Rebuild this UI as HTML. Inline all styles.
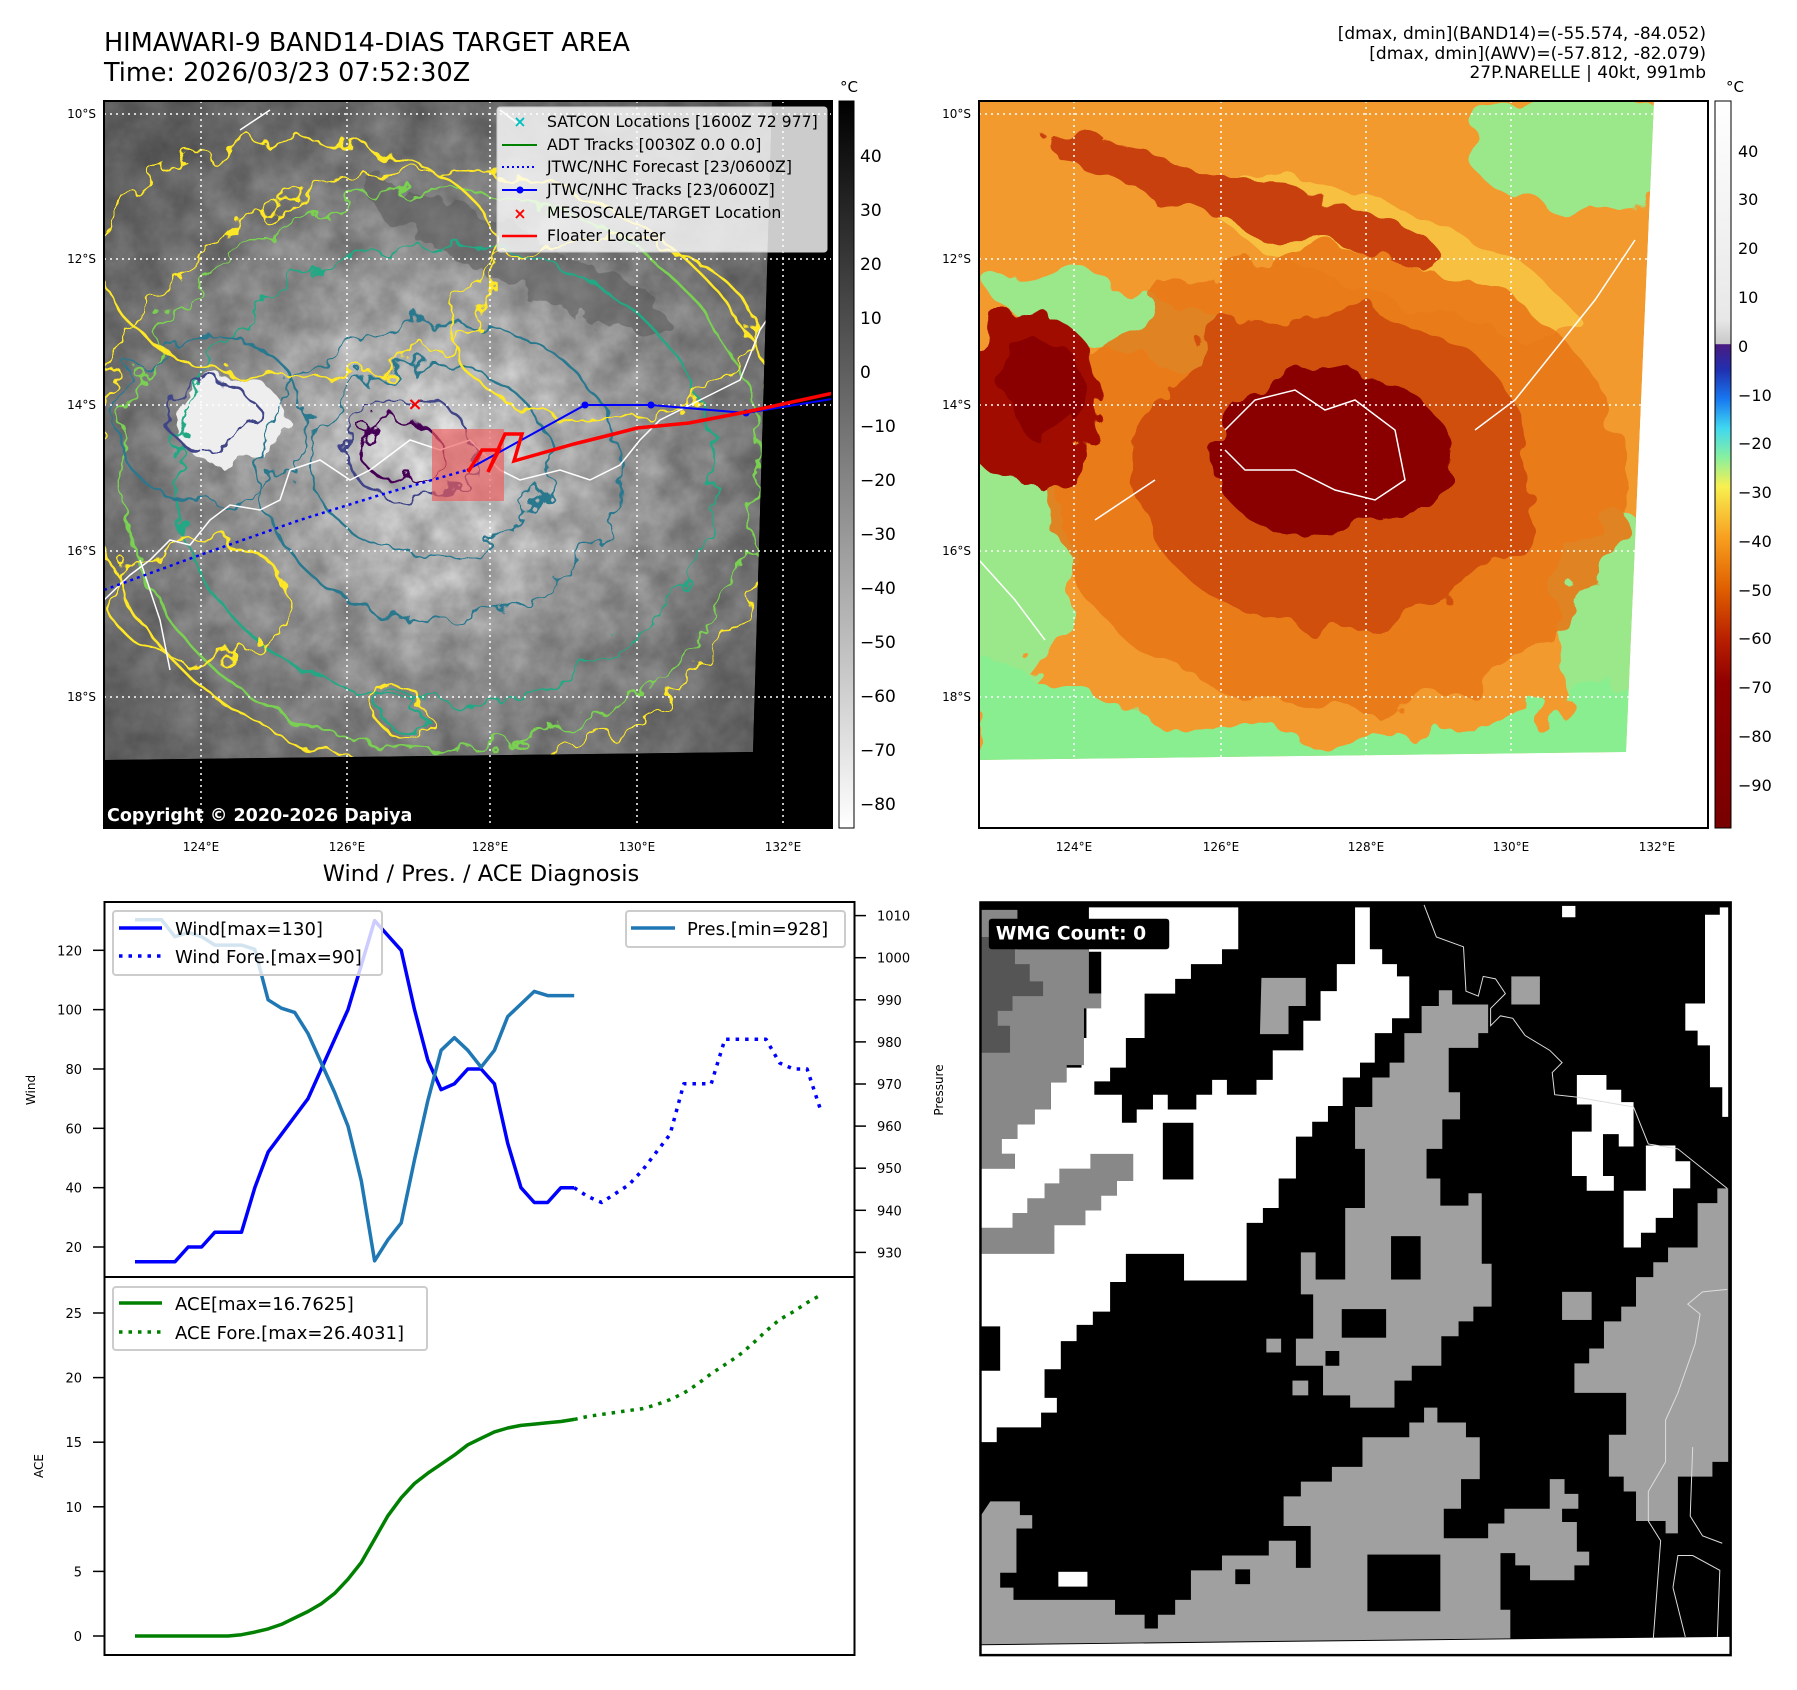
<!DOCTYPE html>
<html><head><meta charset="utf-8"><style>
html,body{margin:0;padding:0;background:#fff}
svg{display:block;font-family:"DejaVu Sans","Liberation Sans",sans-serif}
</style></head><body>
<svg id="fig" width="1797" height="1690" viewBox="0 0 1797 1690" xmlns="http://www.w3.org/2000/svg">
<defs>
  <filter id="wig" x="-10%" y="-10%" width="120%" height="120%"><feTurbulence type="fractalNoise" baseFrequency="0.035" numOctaves="3" seed="3"/><feDisplacementMap in="SourceGraphic" scale="38"/></filter>
  <filter id="wig2" x="-10%" y="-10%" width="120%" height="120%"><feTurbulence type="fractalNoise" baseFrequency="0.02" numOctaves="3" seed="7"/><feDisplacementMap in="SourceGraphic" scale="60"/></filter>
  <filter id="noise"><feTurbulence type="fractalNoise" baseFrequency="0.03" numOctaves="4" seed="5"/><feColorMatrix type="matrix" values="0 0 0 0 0  0 0 0 0 0  0 0 0 0 0  0 0 0 -1.2 1.1"/></filter>
  <radialGradient id="g1" cx="440" cy="460" r="420" gradientUnits="userSpaceOnUse">
    <stop offset="0" stop-color="#f4f4f4"/><stop offset="0.2" stop-color="#e0e0e0"/><stop offset="0.45" stop-color="#b4b4b4"/><stop offset="0.75" stop-color="#8c8c8c"/><stop offset="1" stop-color="#707070"/>
  </radialGradient>
  <linearGradient id="cb1" x1="0" y1="0" x2="0" y2="1"><stop offset="0" stop-color="#000"/><stop offset="1" stop-color="#fff"/></linearGradient>
  <linearGradient id="cb2" x1="0" y1="101" x2="0" y2="828" gradientUnits="userSpaceOnUse">
    <stop offset="0" stop-color="#ffffff"/><stop offset="0.3" stop-color="#e8e8e8"/><stop offset="0.334" stop-color="#c8c8c8"/>
    <stop offset="0.335" stop-color="#4a1a80"/><stop offset="0.37" stop-color="#2030b0"/><stop offset="0.41" stop-color="#1878f0"/><stop offset="0.45" stop-color="#40d8f0"/>
    <stop offset="0.49" stop-color="#88f0a0"/><stop offset="0.53" stop-color="#f8f050"/><stop offset="0.6" stop-color="#f8a020"/><stop offset="0.67" stop-color="#e06000"/>
    <stop offset="0.74" stop-color="#b82000"/><stop offset="0.8" stop-color="#900000"/><stop offset="1" stop-color="#780000"/>
  </linearGradient>
  <clipPath id="c1"><polygon points="104,101 772,101 753,752 104,760"/></clipPath>
  <clipPath id="c1ax"><rect x="104" y="101" width="728" height="727"/></clipPath>
  <clipPath id="c2"><polygon points="979,101 1654,101 1626,752 979,760"/></clipPath>
</defs>

<text x="104" y="51" font-size="25.5">HIMAWARI-9 BAND14-DIAS TARGET AREA</text>
<text x="104" y="81" font-size="25.5">Time: 2026/03/23 07:52:30Z</text>
<g font-size="17" text-anchor="end">
  <text x="1706" y="39">[dmax, dmin](BAND14)=(-55.574, -84.052)</text>
  <text x="1706" y="59">[dmax, dmin](AWV)=(-57.812, -82.079)</text>
  <text x="1706" y="78">27P.NARELLE | 40kt, 991mb</text>
</g>

<!-- MAP 1 -->
<g>
  <g clip-path="url(#c1ax)">
    <rect x="104" y="101" width="728" height="727" fill="#000"/>
    <g clip-path="url(#c1)">
      <polygon points="104,101 772,101 753,752 104,760" fill="url(#g1)"/>
      <rect x="104" y="101" width="680" height="670" fill="#000" filter="url(#noise)" opacity="0.35"/>
      <ellipse cx="520" cy="260" rx="170" ry="28" transform="rotate(25 520 260)" fill="#555" opacity="0.5" filter="url(#wig)"/>
      <ellipse cx="230" cy="420" rx="55" ry="45" fill="#eee" filter="url(#wig)"/>
      <g fill="none" stroke-width="2.5" filter="url(#wig)">
        <ellipse cx="440" cy="470" rx="345" ry="300" stroke="#fde725"/>
        <ellipse cx="440" cy="470" rx="320" ry="280" stroke="#7ad151"/>
        <ellipse cx="445" cy="475" rx="270" ry="230" stroke="#22a884"/>
        <ellipse cx="440" cy="470" rx="180" ry="150" stroke="#2a788e"/>
        <ellipse cx="430" cy="460" rx="120" ry="95" stroke="#2a788e"/>
        <ellipse cx="410" cy="450" rx="65" ry="50" stroke="#414487"/>
        <ellipse cx="400" cy="450" rx="40" ry="30" stroke="#440154"/>
        <ellipse cx="210" cy="420" rx="95" ry="85" stroke="#2a788e"/>
        <ellipse cx="210" cy="415" rx="45" ry="35" stroke="#414487"/>
        <ellipse cx="300" cy="260" rx="200" ry="120" stroke="#fde725"/>
        <ellipse cx="600" cy="330" rx="150" ry="90" stroke="#fde725"/>
        <ellipse cx="200" cy="600" rx="90" ry="60" stroke="#fde725"/>
        <ellipse cx="400" cy="710" rx="20" ry="16" stroke="#22a884"/>
        <ellipse cx="400" cy="710" rx="26" ry="22" stroke="#fde725"/>
      </g>
      <g fill="none" stroke="#fff" stroke-width="1.5">
        <path d="M104,600 L130,575 L150,560 L170,540 L190,545 L210,520 L230,505 L260,510 L280,500 L290,470 L320,460 L350,480 L370,470 L390,455 L410,440 L440,450 L470,440 L500,470 L520,480 L560,470 L590,480 L620,465 L640,440 L660,420 L700,400 L740,380 L760,330 L780,300 L800,260 L820,230 L838,200"/>
        <path d="M140,560 L160,620 L170,670"/>
        <path d="M240,130 L270,110 M500,110 L520,125"/>
      </g>
    </g>
    <g stroke="#fff" stroke-width="1.5" stroke-dasharray="2,4">
      <line x1="201" y1="101" x2="201" y2="828"/><line x1="347" y1="101" x2="347" y2="828"/><line x1="490" y1="101" x2="490" y2="828"/><line x1="637" y1="101" x2="637" y2="828"/><line x1="783" y1="101" x2="783" y2="828"/>
      <line x1="104" y1="114" x2="832" y2="114"/><line x1="104" y1="259" x2="832" y2="259"/><line x1="104" y1="405" x2="832" y2="405"/><line x1="104" y1="551" x2="832" y2="551"/><line x1="104" y1="697" x2="832" y2="697"/>
    </g>
    <rect x="432" y="429" width="72" height="72" fill="rgba(240,90,90,0.65)"/>
    <polyline points="104,590 200,555 300,520 380,495 467,470" fill="none" stroke="#0000ff" stroke-width="2.5" stroke-dasharray="3,4"/>
    <polyline points="467,470 585,405 651,405 746,413 838,398" fill="none" stroke="#0000ff" stroke-width="2"/>
    <g fill="#0000ff"><circle cx="585" cy="405" r="3.5"/><circle cx="651" cy="405" r="3.5"/><circle cx="746" cy="413" r="3.5"/></g>
    <polyline points="468,472 482,450 499,450 488,472 505,434 522,434 514,461 574,444 614,434 637,428 689,423 746,412 838,392" fill="none" stroke="#ff0000" stroke-width="3.5"/>
    <text x="415" y="410" font-size="18" fill="#ff0000" font-weight="bold" text-anchor="middle">×</text>
    <text x="107" y="821" font-size="17.5" font-weight="bold" fill="#fff">Copyright © 2020-2026 Dapiya</text>
  </g>
  <g font-size="15.7">
    <rect x="497" y="107" width="330" height="145" rx="3" fill="rgba(255,255,255,0.8)" stroke="#ccc"/>
    <text x="520" y="127" text-anchor="middle" fill="#00c0c0" font-weight="bold">×</text><text x="547" y="127">SATCON Locations [1600Z 72 977]</text>
    <line x1="502" y1="145" x2="537" y2="145" stroke="#008000" stroke-width="2"/><text x="547" y="150">ADT Tracks [0030Z 0.0 0.0]</text>
    <line x1="502" y1="167" x2="537" y2="167" stroke="#0000ff" stroke-width="2" stroke-dasharray="2,3"/><text x="547" y="172">JTWC/NHC Forecast [23/0600Z]</text>
    <line x1="502" y1="190" x2="537" y2="190" stroke="#0000ff" stroke-width="2"/><circle cx="520" cy="190" r="3.5" fill="#0000ff"/><text x="547" y="195">JTWC/NHC Tracks [23/0600Z]</text>
    <text x="520" y="219" text-anchor="middle" fill="#ff0000" font-weight="bold">×</text><text x="547" y="218">MESOSCALE/TARGET Location</text>
    <line x1="502" y1="236" x2="537" y2="236" stroke="#ff0000" stroke-width="2.5"/><text x="547" y="241">Floater Locater</text>
  </g>
  <rect x="104" y="101" width="728" height="727" fill="none" stroke="#000" stroke-width="2"/>
  <g font-size="12" text-anchor="end">
    <text x="96" y="118">10°S</text><text x="96" y="263">12°S</text><text x="96" y="409">14°S</text><text x="96" y="555">16°S</text><text x="96" y="701">18°S</text>
  </g>
  <g font-size="12" text-anchor="middle">
    <text x="201" y="851">124°E</text><text x="347" y="851">126°E</text><text x="490" y="851">128°E</text><text x="637" y="851">130°E</text><text x="783" y="851">132°E</text>
  </g>
  <g>
    <rect x="839" y="101" width="15" height="727" fill="url(#cb1)" stroke="#000" stroke-width="1"/>
    <text x="849" y="92" font-size="15" text-anchor="middle">°C</text>
    <g font-size="17">
      <text x="860" y="162">40</text><text x="860" y="216">30</text><text x="860" y="270">20</text><text x="860" y="324">10</text><text x="860" y="378">0</text>
      <text x="860" y="432">−10</text><text x="860" y="486">−20</text><text x="860" y="540">−30</text><text x="860" y="594">−40</text><text x="860" y="648">−50</text>
      <text x="860" y="702">−60</text><text x="860" y="756">−70</text><text x="860" y="810">−80</text>
    </g>
  </g>
</g>

<!-- MAP 2 -->
<g>
  <rect x="979" y="101" width="729" height="727" fill="#fff"/>
  <g clip-path="url(#c2)">
    <polygon points="979,101 1654,101 1626,752 979,760" fill="#f29a2e"/>
    <g filter="url(#wig2)">
      <ellipse cx="1120" cy="320" rx="140" ry="30" transform="rotate(15 1120 320)" fill="#9be88a"/>
      <ellipse cx="1580" cy="150" rx="110" ry="60" fill="#9be88a"/>
      <ellipse cx="1005" cy="560" rx="60" ry="130" fill="#9be88a"/>
      <ellipse cx="1615" cy="620" rx="60" ry="110" fill="#9be88a"/>
      <polygon points="979,660 1100,700 1300,745 1500,720 1640,680 1640,780 979,780" fill="#88ee90"/>
      <ellipse cx="1380" cy="250" rx="200" ry="45" transform="rotate(20 1380 250)" fill="#f7c040"/>
      <ellipse cx="1335" cy="480" rx="290" ry="230" fill="#e87818" opacity="0.9"/>
      <ellipse cx="1335" cy="470" rx="200" ry="160" fill="#d05010"/>
      <ellipse cx="1330" cy="455" rx="120" ry="85" fill="#8a0000"/>
      <ellipse cx="1030" cy="400" rx="70" ry="90" fill="#a01000"/>
      <ellipse cx="1045" cy="390" rx="40" ry="50" fill="#8a0000"/>
      <ellipse cx="1245" cy="200" rx="200" ry="25" transform="rotate(15 1245 200)" fill="#c84010"/>
    </g>
    <path d="M1225,430 L1255,400 L1295,390 L1325,410 L1355,400 L1395,430 L1405,480 L1375,500 L1335,490 L1295,470 L1245,470 L1225,450 M1475,430 L1515,400 L1555,350 L1595,300 L1635,240 M1095,520 L1125,500 L1155,480 M979,560 L1015,600 L1045,640" fill="none" stroke="#fff" stroke-width="1.5"/>
  </g>
  <g stroke="#fff" stroke-width="1.5" stroke-dasharray="2,4">
    <line x1="1074" y1="101" x2="1074" y2="828"/><line x1="1221" y1="101" x2="1221" y2="828"/><line x1="1366" y1="101" x2="1366" y2="828"/><line x1="1511" y1="101" x2="1511" y2="828"/><line x1="1657" y1="101" x2="1657" y2="828"/>
    <line x1="979" y1="114" x2="1708" y2="114"/><line x1="979" y1="259" x2="1708" y2="259"/><line x1="979" y1="405" x2="1708" y2="405"/><line x1="979" y1="551" x2="1708" y2="551"/><line x1="979" y1="697" x2="1708" y2="697"/>
  </g>
  <rect x="979" y="101" width="729" height="727" fill="none" stroke="#000" stroke-width="2"/>
  <g font-size="12" text-anchor="end">
    <text x="971" y="118">10°S</text><text x="971" y="263">12°S</text><text x="971" y="409">14°S</text><text x="971" y="555">16°S</text><text x="971" y="701">18°S</text>
  </g>
  <g font-size="12" text-anchor="middle">
    <text x="1074" y="851">124°E</text><text x="1221" y="851">126°E</text><text x="1366" y="851">128°E</text><text x="1511" y="851">130°E</text><text x="1657" y="851">132°E</text>
  </g>
  <g>
    <rect x="1715" y="101" width="16" height="727" fill="url(#cb2)" stroke="#000" stroke-width="1"/>
    <text x="1735" y="92" font-size="15" text-anchor="middle">°C</text>
    <g font-size="16">
      <text x="1738" y="157">40</text><text x="1738" y="205">30</text><text x="1738" y="254">20</text><text x="1738" y="303">10</text><text x="1738" y="352">0</text>
      <text x="1738" y="401">−10</text><text x="1738" y="449">−20</text><text x="1738" y="498">−30</text><text x="1738" y="547">−40</text><text x="1738" y="596">−50</text>
      <text x="1738" y="644">−60</text><text x="1738" y="693">−70</text><text x="1738" y="742">−80</text><text x="1738" y="791">−90</text>
    </g>
  </g>
</g>

<!-- WMG panel -->
<svg x="978" y="900" width="763" height="763" viewBox="0 0 1548 1548">
  <rect x="5" y="5" width="1522" height="1527" fill="#000"/>
  <polygon fill="#fff" points="225,15 528,15 528,100 495,100 495,130 432,130 432,160 400,160 400,190 338,190 338,280 300,280 300,340 268,340 268,368 236,368 236,395 292,395 292,452 322,452 322,425 355,425 355,395 385,395 385,425 443,425 443,395 475,395 475,365 505,365 505,395 565,395 565,365 598,365 598,305 660,305 660,245 695,245 695,185 728,185 728,130 765,130 765,15 795,15 795,100 820,100 820,130 850,130 850,155 875,155 875,240 840,240 840,270 805,270 805,330 775,330 775,360 740,360 740,418 710,418 710,450 678,450 678,480 645,480 645,565 610,565 610,625 578,625 578,655 545,655 545,772 418,772 418,718 300,718 300,775 268,775 268,835 233,835 233,862 200,862 200,895 168,895 168,952 135,952 135,1010 160,1010 160,1040 128,1040 128,1070 38,1070 38,1100 5,1100 5,955 45,955 45,865 5,865 5,545 75,545 75,515 48,515 48,485 80,485 80,455 115,455 115,425 148,425 148,370 178,370 178,340 210,340 210,280 220,280 220,190 250,190 250,105 225,105"/>
  <rect x="375" y="452" width="62" height="115" fill="#000"/>
  <polygon fill="#888" points="5,20 80,20 80,100 225,100 225,190 250,190 250,220 215,220 215,335 180,335 180,370 148,370 148,425 115,425 115,455 80,455 80,485 48,485 48,515 75,515 75,545 5,545"/>
  <polygon fill="#555" points="5,75 75,75 75,130 105,130 105,165 132,165 132,195 70,195 70,225 40,225 40,255 65,255 65,310 5,310"/>
  <polygon fill="#888" points="5,665 70,665 70,635 100,635 100,605 135,605 135,575 165,575 165,545 228,545 228,515 315,515 315,570 282,570 282,600 250,600 250,630 218,630 218,660 155,660 155,718 5,718"/>
  <g fill="#a0a0a0">
    <polygon points="935,183 962,183 962,212 1035,212 1035,270 1015,270 1015,300 955,300 955,390 978,390 978,445 942,445 942,505 910,505 910,565 938,565 938,620 995,620 995,595 1022,595 1022,738 1042,738 1042,825 1005,825 1005,855 975,855 975,885 940,885 940,945 880,945 880,975 845,975 845,1030 755,1030 755,1005 700,1005 700,945 645,945 645,890 680,890 680,800 655,800 655,715 685,715 685,770 745,770 745,625 785,625 785,505 765,505 765,420 800,420 800,360 835,360 835,330 865,330 865,270 900,270 900,215 935,215"/>
    <polygon points="5,1250 25,1220 85,1220 85,1248 110,1248 110,1275 78,1275 78,1365 45,1365 45,1395 72,1395 72,1420 278,1420 278,1450 338,1450 338,1478 365,1478 365,1450 400,1450 400,1420 432,1420 432,1360 495,1360 495,1330 590,1330 590,1300 645,1300 645,1355 675,1355 675,1270 620,1270 620,1210 655,1210 655,1180 718,1180 718,1150 780,1150 780,1090 875,1090 875,1060 905,1060 905,1030 932,1030 932,1060 990,1060 990,1090 1018,1090 1018,1175 980,1175 980,1235 945,1235 945,1295 1035,1295 1035,1265 1068,1265 1068,1235 1160,1235 1160,1175 1190,1175 1190,1205 1218,1205 1218,1235 1185,1235 1185,1262 1215,1262 1215,1322 1240,1322 1240,1350 1210,1350 1210,1380 1120,1380 1120,1350 1090,1350 1090,1325 1060,1325 1060,1440 1080,1440 1080,1498 5,1510"/>
    <polygon points="1500,585 1522,585 1522,1140 1490,1140 1490,1170 1420,1170 1420,1285 1395,1285 1395,1260 1335,1260 1335,1200 1310,1200 1310,1170 1280,1170 1280,1085 1315,1085 1315,1000 1210,1000 1210,940 1240,940 1240,910 1270,910 1270,855 1305,855 1305,825 1335,825 1335,765 1370,765 1370,735 1400,735 1400,705 1460,705 1460,615 1500,615"/>
    <polygon points="575,158 665,158 665,215 630,215 630,272 572,272"/>
    <rect x="1082" y="155" width="58" height="57"/><rect x="1185" y="795" width="60" height="57"/>
    <rect x="585" y="890" width="30" height="28"/><rect x="638" y="975" width="32" height="30"/>
  </g>
  <g fill="#000"><rect x="838" y="682" width="60" height="88"/><rect x="738" y="830" width="90" height="58"/><rect x="705" y="915" width="28" height="30"/><rect x="522" y="1358" width="30" height="30"/><rect x="790" y="1328" width="148" height="115"/></g>
  <g fill="#fff">
    <polygon points="1435,210 1475,210 1475,30 1505,30 1505,15 1522,15 1522,440 1510,440 1510,380 1485,380 1485,295 1460,295 1460,265 1435,265"/>
    <polygon points="1215,355 1275,355 1275,385 1305,385 1305,410 1330,410 1330,500 1300,500 1300,475 1268,475 1268,560 1290,560 1290,590 1235,590 1235,560 1205,560 1205,470 1245,470 1245,415 1215,415"/>
    <polygon points="1355,498 1415,498 1415,530 1445,530 1445,585 1410,585 1410,645 1375,645 1375,675 1345,675 1345,705 1310,705 1310,590 1355,590"/>
    <rect x="163" y="1363" width="59" height="30"/><rect x="1185" y="12" width="27" height="23"/>
    <polygon points="5,1512 1525,1495 1525,1532 5,1532"/>
  </g>
  <path d="M905,10 L930,75 L985,95 L990,185 L1015,195 L1025,155 L1050,160 L1070,190 L1040,220 L1040,255 L1060,235 L1085,240 L1110,275 L1160,305 L1185,330 L1165,350 L1170,395 L1215,400 L1330,420 L1360,495 L1420,505 L1520,585 M1520,790 L1470,795 L1440,820 L1465,840 L1455,900 L1420,1000 L1395,1055 L1395,1140 L1360,1200 L1360,1260 L1385,1300 L1370,1500 M1450,1110 L1445,1250 L1470,1290 L1510,1305 M1410,1395 L1420,1330 L1450,1330 L1505,1360 L1500,1495 M1410,1395 L1435,1495" fill="none" stroke="#ddd" stroke-width="2"/>
  <rect x="5" y="5" width="1522" height="1527" fill="none" stroke="#000" stroke-width="5"/>
  <rect x="22" y="38" width="366" height="62" rx="6" fill="#000"/>
  <text x="36" y="80" font-size="38" font-weight="bold" fill="#fff">WMG Count: 0</text>
</svg>

<!-- CHART -->
<g id="chart">
  <text x="481" y="881" font-size="22.5" text-anchor="middle">Wind / Pres. / ACE Diagnosis</text>
  <g id="marks"></g>
  <rect x="104.5" y="902" width="750" height="375" fill="none" stroke="#000" stroke-width="2"/>
  <rect x="104.5" y="1277" width="750" height="378" fill="none" stroke="#000" stroke-width="2"/>
  <text transform="translate(35,1090) rotate(-90)" font-size="12" text-anchor="middle">Wind</text>
  <text transform="translate(943,1090) rotate(-90)" font-size="12" text-anchor="middle">Pressure</text>
  <text transform="translate(43,1466) rotate(-90)" font-size="12" text-anchor="middle">ACE</text>
  <g id="legends" font-size="18">
    <g>
      <rect x="113" y="911" width="269" height="64" rx="3" fill="rgba(255,255,255,0.8)" stroke="#ccc" stroke-width="2"/>
      <line x1="119" y1="928" x2="162" y2="928" stroke="#0000ff" stroke-width="3.5"/><text x="175" y="935">Wind[max=130]</text>
      <line x1="119" y1="956" x2="162" y2="956" stroke="#0000ff" stroke-width="3.5" stroke-dasharray="3.5,6"/><text x="175" y="963">Wind Fore.[max=90]</text>
    </g>
    <g>
      <rect x="626" y="911" width="219" height="36" rx="3" fill="rgba(255,255,255,0.8)" stroke="#ccc" stroke-width="2"/>
      <line x1="631" y1="928" x2="675" y2="928" stroke="#1f77b4" stroke-width="3.5"/><text x="687" y="935">Pres.[min=928]</text>
    </g>
    <g>
      <rect x="113" y="1287" width="314" height="63" rx="3" fill="rgba(255,255,255,0.8)" stroke="#ccc" stroke-width="2"/>
      <line x1="119" y1="1303" x2="162" y2="1303" stroke="#008000" stroke-width="3.5"/><text x="175" y="1310">ACE[max=16.7625]</text>
      <line x1="119" y1="1332" x2="162" y2="1332" stroke="#008000" stroke-width="3.5" stroke-dasharray="3.5,6"/><text x="175" y="1339">ACE Fore.[max=26.4031]</text>
    </g>
  </g>
</g>
</svg>
<script>
const windObs = [15,15,15,15,20,20,25,25,25,40,52,58,64,70,80,90,100,115,130,125,120,100,83,73,75,80,80,75,55,40,35,35,40,40];
const presObs = [1009,1009,1009,1005,1006,1005,1003,1003,1003,1002,990,988,987,982,975,968,960,947,928,933,937,952,966,978,981,978,974,978,986,989,992,991,991,991];
const aceObs = [0,0,0,0,0,0,0,0,0.1,0.3,0.55,0.9,1.4,1.9,2.5,3.3,4.4,5.7,7.5,9.3,10.7,11.8,12.6,13.3,14.0,14.8,15.3,15.8,16.1,16.3,16.4,16.5,16.6,16.7625];
const windFore = [40,37,35,38,41,46,52,58,75,75,75,90,90,90,90,82,80,80,66];
const aceFore = [16.7625,17.0,17.15,17.3,17.45,17.6,17.9,18.3,18.8,19.5,20.3,21.0,21.7,22.6,23.6,24.5,25.1,25.8,26.4031];
const windTicks = [20,40,60,80,100,120];
const presTicks = [930,940,950,960,970,980,990,1000,1010];
const aceTicks = [0,5,10,15,20,25];
const stepHours = 6;

const NS = 'http://www.w3.org/2000/svg';
const marks = document.getElementById('marks');
const xObs = h => 135 + (h / stepHours) * 13.31;
const nObs = windObs.length - 1;
const xEndObs = xObs(nObs * stepHours);
const xS = h => h <= nObs * stepHours ? xObs(h) : xEndObs + ((h / stepHours) - nObs) * 13.7;
const yWind = w => 1247 - (w - 20) * 2.967;
const yPres = p => 1252.4 - (p - 930) * 4.21;
const yAce = a => 1636 - a * 12.92;

function mk(tag, attrs) {
  const e = document.createElementNS(NS, tag);
  for (const k in attrs) e.setAttribute(k, attrs[k]);
  marks.appendChild(e);
  return e;
}
function path(vals, off, ys, color, dash, name) {
  const d = vals.map((v, i) => (i ? 'L' : 'M') + xS((i + off) * stepHours).toFixed(1) + ',' + ys(v).toFixed(1)).join(' ');
  const e = mk('path', {d: d, fill: 'none', stroke: color, 'stroke-width': 3.5, 'stroke-linejoin': 'round'});
  if (dash) e.setAttribute('stroke-dasharray', '3.5,6');
  
  
}
path(windObs, 0, yWind, '#0000ff', false, 'wind-line');
path(windFore, nObs, yWind, '#0000ff', true, 'wind-forecast-line');
path(presObs, 0, yPres, '#1f77b4', false, 'pressure-line');
path(aceObs, 0, yAce, '#008000', false, 'ace-line');
path(aceFore, nObs, yAce, '#008000', true, 'ace-forecast-line');

function ticks(arr, ys, side, name) {
  arr.forEach(v => {
    const y = ys(v);
    const x0 = side === 'left' ? 104.5 : 854.5;
    const x1 = side === 'left' ? 93 : 866;
    const t = mk('line', {x1: x0, y1: y, x2: x1, y2: y, stroke: '#000', 'stroke-width': 1.5});
    
    
    const l = mk('text', {x: side === 'left' ? 82 : 877, y: y + 5, 'font-size': 13, 'text-anchor': side === 'left' ? 'end' : 'start'});
    
    
    l.textContent = v;
  });
}
ticks(windTicks, yWind, 'left', 'wind');
ticks(presTicks, yPres, 'right', 'pressure');
ticks(aceTicks, yAce, 'left', 'ace');
</script>
</body></html>
